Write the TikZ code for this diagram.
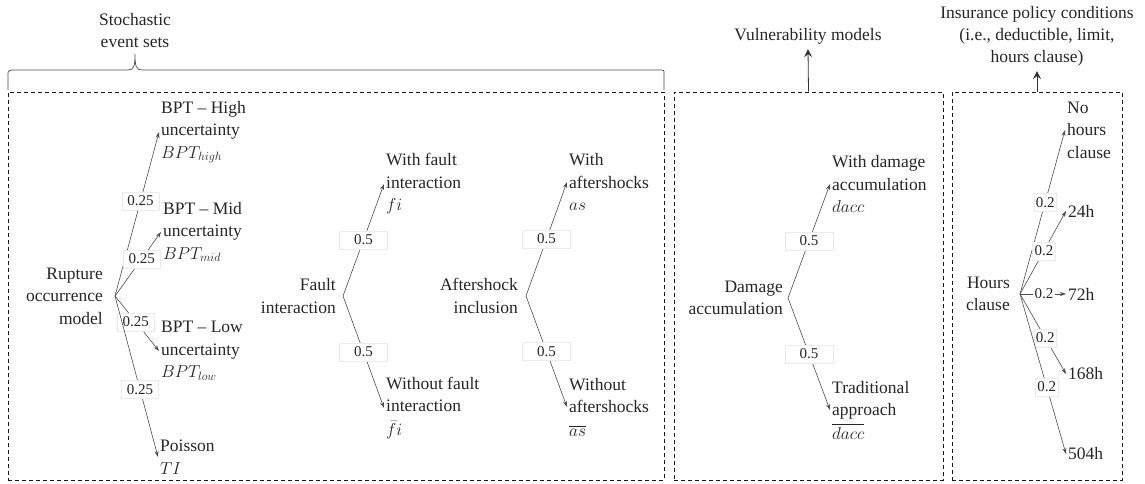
\documentclass[tikz,border=0pt]{standalone}
\usepackage{fontspec}
\setmainfont{Liberation Serif}
\usepackage{amsmath}
\usetikzlibrary{arrows.meta,positioning}

\begin{document}
\begin{tikzpicture}[x=1pt,y=-1pt,
  every node/.style={text=black!85},
  panel/.style={draw=black!90,dash pattern=on 4pt off 3pt,line width=0.9pt,inner sep=0pt},
  heading/.style={align=center,font=\rmfamily\fontsize{17.5}{22}\selectfont,inner sep=5pt},
  root/.style={align=right,font=\rmfamily\fontsize{17.5}{22.5}\selectfont,inner sep=1pt},
  leaf/.style={align=left,anchor=west,font=\rmfamily\fontsize{17.5}{22.5}\selectfont,inner sep=2pt},
  branch/.style={draw=black!70,line width=0.6pt,-{Stealth[length=6pt,width=4pt]}},
  prob/.style={fill=white,draw=black!8,line width=0.4pt,font=\rmfamily\fontsize{15}{16}\selectfont,inner sep=2pt,minimum height=18pt},
  uparrow/.style={draw=black!80,line width=0.8pt,-{Stealth[length=8pt,width=8pt,inset=3pt]}}
]
\useasboundingbox (0,0) rectangle (1145,484);

% headings and panels
\node[heading] (events) at (135,31) {Stochastic\\event sets};
\node[heading] (vuln) at (808,36) {Vulnerability models};
\node[heading] (policy) at (1037,36) {Insurance policy conditions\\(i.e., deductible, limit,\\hours clause)};
\node[panel,minimum width=656pt,minimum height=388pt] (eventBox) at (336,286) {};
\node[panel,minimum width=269pt,minimum height=388pt] (vulnBox) at (808.5,286) {};
\node[panel,minimum width=170pt,minimum height=388pt] (policyBox) at (1037,286) {};
\draw[black!70,line width=0.7pt] (8,90) -- (8,75) .. controls (8,71) .. (12,70) -- (128,70)
  .. controls (134,70) and (135,66) .. (135,54) .. controls (135,66) and (136,70) .. (142,70)
  -- (660,70) .. controls (664,70) .. (664,74) -- (664,90);
\draw[uparrow] (vulnBox.north) -- (vuln.south);
\draw[uparrow] (policyBox.north) -- (policy.south);

% rupture occurrence model
\coordinate (rupB) at (115,296);
\node[root,left=11pt of rupB] (rupture) {Rupture\\occurrence\\model};
\node[leaf] (bptHigh) at (159,132) {BPT -- High\\uncertainty\\$BPT_{high}$};
\node[leaf] (bptMid) at (161,232) {BPT -- Mid\\uncertainty\\$BPT_{mid}$};
\node[leaf] (bptLow) at (159,351) {BPT -- Low\\uncertainty\\$BPT_{low}$};
\node[leaf] (poisson) at (158,457) {Poisson\\$TI$};
\draw[branch] (rupB) -- node[prob,pos=0.58,minimum width=37pt] {0.25} (bptHigh.west);
\draw[branch] (rupB) -- node[prob,pos=0.58,minimum width=37pt] {0.25} (bptMid.west);
\draw[branch] (rupB) -- node[prob,pos=0.47,minimum width=37pt] {0.25} (bptLow.west);
\draw[branch] (rupB) -- node[prob,pos=0.58,minimum width=37pt] {0.25} (poisson.west);

% fault interaction
\coordinate (faultB) at (343,296);
\node[root,left=6pt of faultB] (fault) {Fault\\interaction};
\node[leaf] (fiYes) at (384,184) {With fault\\interaction\\$fi$};
\node[leaf] (fiNo) at (384,408) {Without fault\\interaction\\[1pt]$\bar{f}i$};
\draw[branch] (faultB) -- node[prob,pos=0.5,minimum width=48pt] {0.5} (fiYes.west);
\draw[branch] (faultB) -- node[prob,pos=0.5,minimum width=48pt] {0.5} (fiNo.west);

% aftershock inclusion
\coordinate (afterB) at (526,296);
\node[root,left=7pt of afterB] (after) {Aftershock\\inclusion};
\node[leaf] (asYes) at (567,182) {With\\aftershocks\\$as$};
\node[leaf] (asNo) at (567,407) {Without\\aftershocks\\[1pt]$\overline{as}$};
\draw[branch] (afterB) -- node[prob,pos=0.5,minimum width=48pt] {0.5} (asYes.west);
\draw[branch] (afterB) -- node[prob,pos=0.5,minimum width=48pt] {0.5} (asNo.west);

% damage accumulation
\coordinate (damageB) at (788,298);
\node[root,left=4pt of damageB] (damage) {Damage\\accumulation};
\node[leaf] (daccYes) at (830,184) {With damage\\accumulation\\$dacc$};
\node[leaf] (daccNo) at (830,410) {Traditional\\approach\\[1pt]$\overline{dacc}$};
\draw[branch] (damageB) -- node[prob,pos=0.5,minimum width=48pt] {0.5} (daccYes.west);
\draw[branch] (damageB) -- node[prob,pos=0.5,minimum width=48pt] {0.5} (daccNo.west);

% hours clause
\coordinate (hoursB) at (1020,294);
\node[root,left=9pt of hoursB] (hours) {Hours\\clause};
\node[leaf] (h0) at (1065,130) {No\\hours\\clause};
\node[leaf] (h24) at (1066,211) {24h};
\node[leaf] (h72) at (1066,294) {72h};
\node[leaf] (h168) at (1066,374) {168h};
\node[leaf] (h504) at (1066,454) {504h};
\draw[branch] (hoursB) -- node[prob,pos=0.56] {0.2} (h0.west);
\draw[branch] (hoursB) -- node[prob,pos=0.52] {0.2} (h24.west);
\draw[branch] (hoursB) -- node[prob,pos=0.52,draw=none] {0.2} (h72.west);
\draw[branch] (hoursB) -- node[prob,pos=0.55] {0.2} (h168.west);
\draw[branch] (hoursB) -- node[prob,pos=0.58] {0.2} (h504.west);
\end{tikzpicture}
\end{document}
